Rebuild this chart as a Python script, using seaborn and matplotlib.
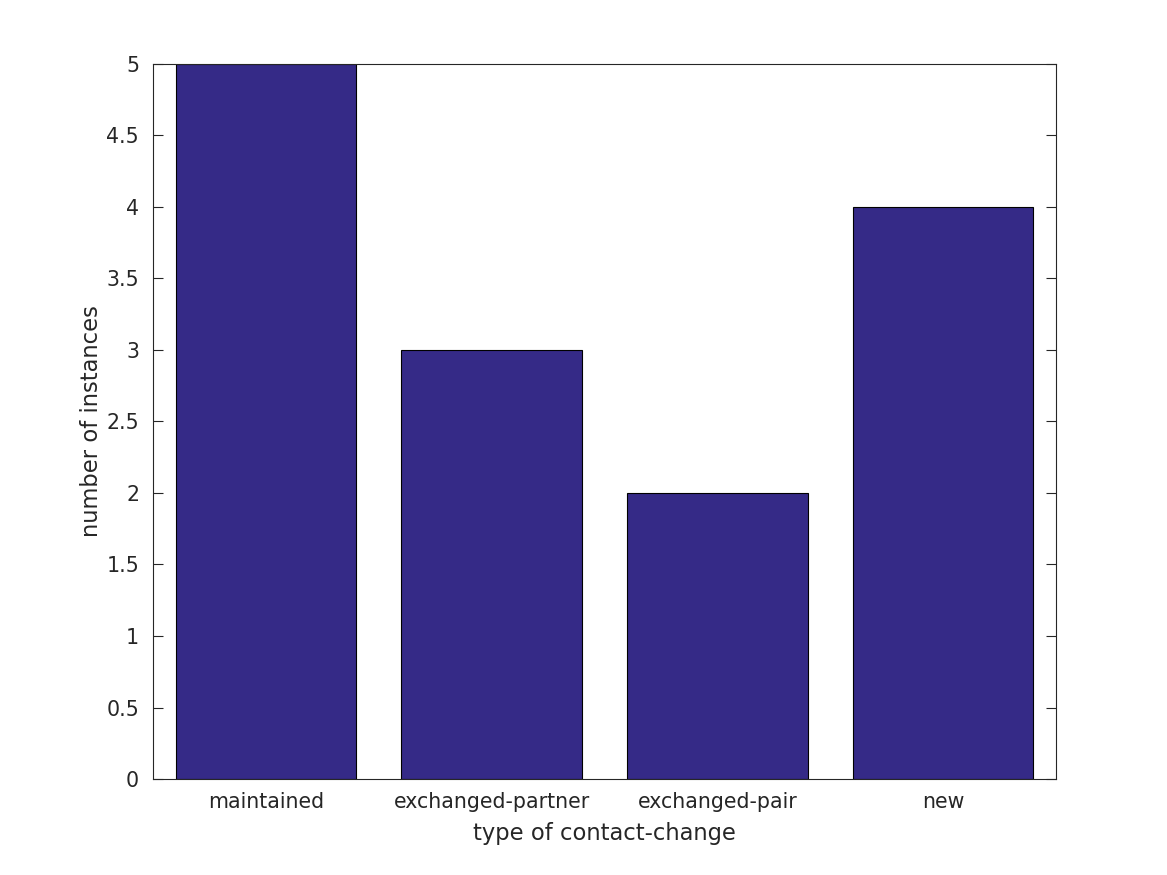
import matplotlib
matplotlib.use("Agg")
import matplotlib.pyplot as plt
import seaborn as sns
import pandas as pd

categories = ["maintained", "exchanged-partner", "exchanged-pair", "new"]
counts = [5, 3, 2, 4]

sns.set_theme(style="white")
plt.rcParams['font.family'] = ['DejaVu Sans']

df = pd.DataFrame({"cat": categories, "n": counts})

fig = plt.figure(figsize=(11.67, 8.75), dpi=100)
ax = fig.add_axes([0.1311, 0.1097, 0.7738, 0.8172])
sns.barplot(data=df, x="cat", y="n", color="#352a87", saturation=1,
            width=0.8, edgecolor="black", linewidth=0.8, ax=ax)

ax.set_xlim(-0.5, 3.5)
ax.set_ylim(0, 5)
ax.set_yticks([0, 0.5, 1, 1.5, 2, 2.5, 3, 3.5, 4, 4.5, 5])
ax.set_yticklabels(["0", "0.5", "1", "1.5", "2", "2.5", "3", "3.5", "4", "4.5", "5"])
ax.tick_params(axis="both", direction="in", length=7, width=0.8, colors="#262626",
               labelsize=14.8, top=True, right=True, bottom=True, left=True)
ax.tick_params(axis="y", pad=10)
ax.tick_params(axis="x", length=0, top=False, pad=9)
for s in ax.spines.values():
    s.set_visible(True)
    s.set_color("#262626")
    s.set_linewidth(0.8)
ax.set_xlabel("type of contact-change", fontsize=16.3, color="#262626", labelpad=7.5)
ax.set_ylabel("number of instances", fontsize=16.3, color="#262626", labelpad=2.5)

fig.savefig("out.png", dpi=100, facecolor="white")
